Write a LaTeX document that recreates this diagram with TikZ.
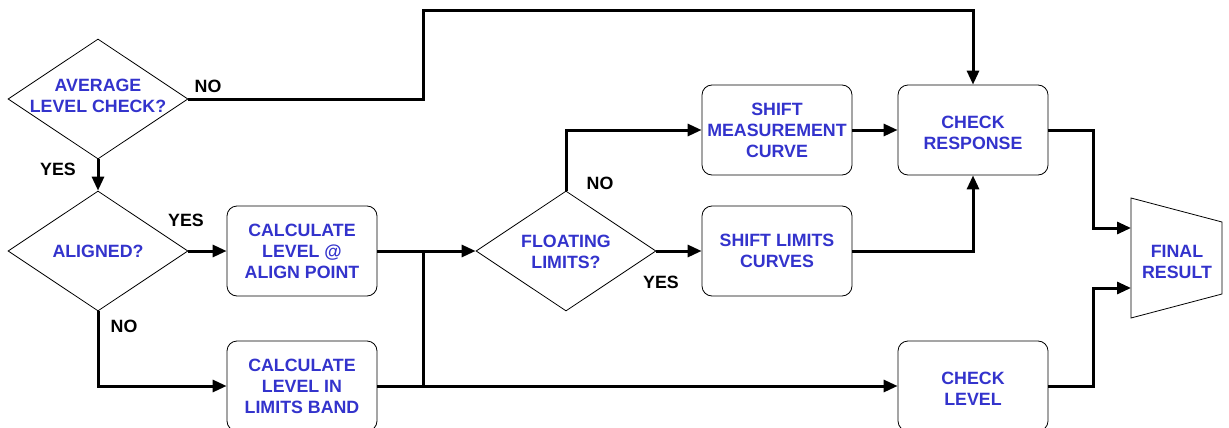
\documentclass[tikz,border=0pt]{standalone}
\usepackage{fontspec}
\setmainfont{Liberation Sans}
\usetikzlibrary{arrows.meta,shapes.geometric}
\definecolor{txtblue}{RGB}{51,51,204}
\begin{document}
\begin{tikzpicture}[x=1pt,y=-1pt,
  font=\fontsize{17.8}{21}\selectfont\bfseries,
  dia/.style={draw,diamond,line width=0.8pt,minimum width=180pt,minimum height=120pt,inner sep=0pt},
  box/.style={draw,rounded corners=10pt,line width=0.8pt,minimum width=150pt,minimum height=90pt,inner sep=0pt},
  txt/.style={text=txtblue,align=center,inner sep=0pt},
  lbl/.style={text=black,inner sep=0pt},
  conn/.style={line width=3pt},
  arr/.style={conn,-{Triangle[length=14pt,width=12pt]}}]
\useasboundingbox (0,0) rectangle (1229,428);
% shapes
\node[dia] (d1) at (98,99) {};
\node[txt] (t1) at (98,96) {AVERAGE\\LEVEL CHECK?};
\node[dia] (d2) at (98,251) {};
\node[txt] (t2) at (98,251) {ALIGNED?};
\node[dia] (d3) at (566,251) {};
\node[txt] (t3) at (566,252) {FLOATING\\LIMITS?};
\node[box] (b1) at (302,251) {};
\node[txt] (tb1) at (302,251) {CALCULATE\\LEVEL @\\ALIGN POINT};
\node[box] (b2) at (302,386) {};
\node[txt] (tb2) at (302,386) {CALCULATE\\LEVEL IN\\LIMITS BAND};
\node[box] (sm) at (777,130) {};
\node[txt] (tsm) at (777,130) {SHIFT\\MEASUREMENT\\CURVE};
\node[box] (sl) at (777,251) {};
\node[txt] (tsl) at (777,251) {SHIFT LIMITS\\CURVES};
\node[box] (cr) at (973,130) {};
\node[txt] (tcr) at (973,133) {CHECK\\RESPONSE};
\node[box] (cl) at (973,386) {};
\node[txt] (tcl) at (973,389) {CHECK\\LEVEL};
% final result trapezoid
\coordinate (ftl) at (1131,198);
\coordinate (fbl) at (1131,318);
\coordinate (ftr) at (1222,222);
\coordinate (fbr) at (1222,294);
\draw[line width=0.8pt] (ftl) -- (ftr) -- (fbr) -- (fbl) -- cycle;
\node[txt] (fr) at (1177,262) {FINAL\\RESULT};
\coordinate (fin1) at (1131,228);
\coordinate (fin2) at (1131,288);
% junction points
\coordinate (ja) at (423,251);
\coordinate (jb) at (423,386);
% connectors
\draw[arr] (d1.east) -- (423,99) |- (973,11) -- (cr.north);
\draw[arr] (d1.south) -- (d2.north);
\draw[arr] (d2.east) -- (b1.west);
\draw[arr] (d2.south) |- (b2.west);
\draw[arr] (b1.east) -- (d3.west);
\draw[conn] (ja) -- (jb);
\draw[arr] (b2.east) -- (cl.west);
\draw[arr] (d3.north) |- (sm.west);
\draw[arr] (d3.east) -- (sl.west);
\draw[arr] (sm.east) -- (cr.west);
\draw[arr] (sl.east) -| (cr.south);
\draw[arr] (cr.east) -- (1093,130) |- (fin1);
\draw[arr] (cl.east) -- (1093,386) |- (fin2);
% labels
\node[lbl] (l1) at (208,86) {NO};
\node[lbl] (l2) at (58,169) {YES};
\node[lbl] (l3) at (186,220) {YES};
\node[lbl] (l4) at (124,326) {NO};
\node[lbl] (l5) at (600,183) {NO};
\node[lbl] (l6) at (661,282) {YES};
\end{tikzpicture}
\end{document}
